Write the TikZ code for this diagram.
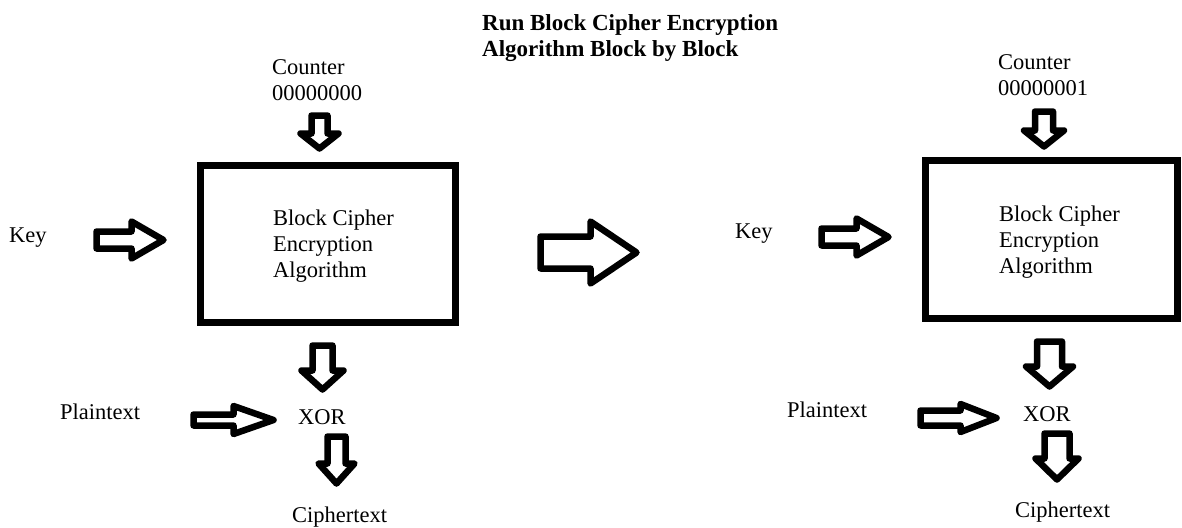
\documentclass[tikz,border=0pt]{standalone}
\usepackage{fontspec}
\setmainfont{Liberation Serif}
\usetikzlibrary{calc}

% Hollow block arrow from #1 to #2: shaft half width #3, head half width #4, head length #5
\newcommand\fatarrow[5]{%
  \coordinate (fa-head) at ($(#2)!#5!(#1)$);
  \draw[fatline]
    ($(#1)!#3!90:(#2)$) -- ($(fa-head)!#3!90:(#2)$) -- ($(fa-head)!#4!90:(#2)$)
    -- (#2)
    -- ($(fa-head)!#4!-90:(#2)$) -- ($(fa-head)!#3!-90:(#2)$) -- ($(#1)!#3!-90:(#2)$)
    -- cycle;
}

\tikzset{
  fatline/.style={draw=black, fill=white, line width=6.5pt, line join=round},
  cipherbox/.style={draw=black, line width=7pt, inner sep=0pt},
  lbl/.style={inner sep=0pt, font=\fontsize{22.5}{26}\selectfont, text=black},
  lblblock/.style={lbl, align=left, anchor=north west},
}

\begin{document}
\begin{tikzpicture}[x=1pt, y=-1pt]
\useasboundingbox (0,0) rectangle (1182,527);

% title
\node[lblblock, font=\fontsize{23}{26}\selectfont\bfseries] (title) at (482,14)
  {Run Block Cipher Encryption\\Algorithm Block by Block};

% ---------- first block (counter 0) ----------
\node[cipherbox, minimum width=255pt, minimum height=157pt] (box1) at (328,244) {};
\node[lblblock] (bc1) at (273,209.5) {Block Cipher\\Encryption\\Algorithm};
\node[lblblock] (cnt1) at (272,59.5) {Counter\\00000000};
\node[lbl, anchor=base west] (key1) at (9,242) {Key};
\node[lbl, anchor=base west] (ptx1) at (60,419) {Plaintext};
\node[lbl, anchor=base west] (xor1) at (298,424) {XOR};
\node[lbl, anchor=base west] (ctx1) at (292,522) {Ciphertext};

\coordinate (c1s) at (319.5,115.5);  \coordinate (c1e) at (319.5,148.5);
\coordinate (k1s) at (96.5,240);     \coordinate (k1e) at (163.5,240);
\coordinate (o1s) at (322.5,345.5);  \coordinate (o1e) at (322.5,389.5);
\coordinate (p1s) at (193.5,420);    \coordinate (p1e) at (273.5,420);
\coordinate (x1s) at (336.5,436.5);  \coordinate (x1e) at (336.5,483.5);

\fatarrow{c1s}{c1e}{8pt}{19pt}{15pt}
\fatarrow{k1s}{k1e}{8.5pt}{18.5pt}{32pt}
\fatarrow{o1s}{o1e}{10pt}{21pt}{19pt}
\fatarrow{p1s}{p1e}{5.5pt}{14pt}{40pt}
\fatarrow{x1s}{x1e}{9pt}{18pt}{20pt}

% ---------- step to the next block ----------
\coordinate (ms) at (540.5,252.5);   \coordinate (me) at (636.5,252.5);
\fatarrow{ms}{me}{16pt}{31pt}{46pt}

% ---------- second block (counter 1) ----------
\node[cipherbox, minimum width=252pt, minimum height=158pt] (box2) at (1051.5,239.5) {};
\node[lblblock] (bc2) at (999,205.5) {Block Cipher\\Encryption\\Algorithm};
\node[lblblock] (cnt2) at (998,54.5) {Counter\\00000001};
\node[lbl, anchor=base west] (key2) at (735,238) {Key};
\node[lbl, anchor=base west] (ptx2) at (787,417) {Plaintext};
\node[lbl, anchor=base west] (xor2) at (1023,421) {XOR};
\node[lbl, anchor=base west] (ctx2) at (1015,517) {Ciphertext};

\coordinate (c2s) at (1044,111.5);   \coordinate (c2e) at (1044,146.5);
\coordinate (k2s) at (821.5,237);    \coordinate (k2e) at (888.5,237);
\coordinate (o2s) at (1049.5,341.5); \coordinate (o2e) at (1049.5,386.5);
\coordinate (p2s) at (920.5,418);    \coordinate (p2e) at (996.5,418);
\coordinate (x2s) at (1057,433.5);   \coordinate (x2e) at (1057,479.5);

\fatarrow{c2s}{c2e}{9pt}{20pt}{16pt}
\fatarrow{k2s}{k2e}{8.5pt}{18.5pt}{32pt}
\fatarrow{o2s}{o2e}{12.5pt}{23.5pt}{20pt}
\fatarrow{p2s}{p2e}{7.5pt}{14pt}{36pt}
\fatarrow{x2s}{x2e}{12.5pt}{21.5pt}{21pt}
\end{tikzpicture}
\end{document}
